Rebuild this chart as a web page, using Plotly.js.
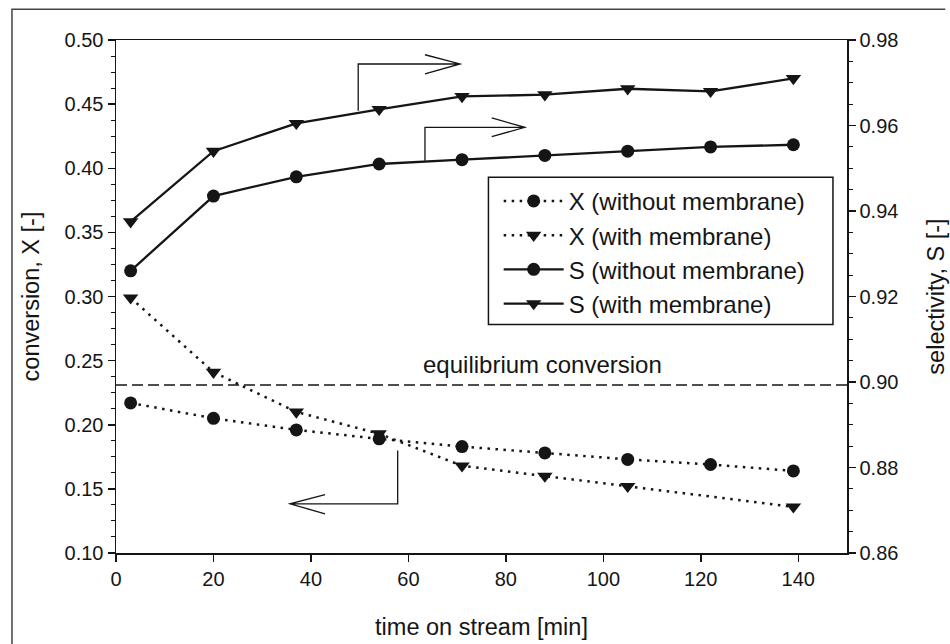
<!DOCTYPE html>
<html>
<head>
<meta charset="utf-8">
<script src="https://cdn.plot.ly/plotly-3.0.1.min.js"></script>
<style>
  html, body { margin: 0; padding: 0; background: #ffffff; }
  #chart { width: 950px; height: 644px; }
</style>
</head>
<body>
<div id="chart"></div>
<script>
// ---- data ----
const timeMin = [3, 20, 37, 54, 71, 88, 105, 122, 139];
const timeXWithMembrane = [3, 20, 37, 54, 71, 88, 105, 139];
const convWithout = [0.217, 0.205, 0.196, 0.189, 0.183, 0.178, 0.173, 0.169, 0.164];
const convWith = [0.299, 0.241, 0.210, 0.193, 0.168, 0.160, 0.152, 0.136];
const selWithout = [0.926, 0.9435, 0.948, 0.951, 0.952, 0.953, 0.954, 0.955, 0.9555];
const selWith = [0.9375, 0.954, 0.9605, 0.9638, 0.9668, 0.9672, 0.9686, 0.968, 0.971];
const eqConversion = 0.231;
const seriesNames = ["X (without membrane)", "X (with membrane)", "S (without membrane)", "S (with membrane)"];
const xTitle = "time on stream [min]";
const yTitle = "conversion, X [-]";
const y2Title = "selectivity, S [-]";
const eqLabel = "equilibrium conversion";

const INK = "#151515";
const FONT = "Liberation Sans, Arial, sans-serif";
const dotted = "2.5px,5.5px";

const traces = [
  { x: timeMin, y: convWithout, name: seriesNames[0], yaxis: "y", mode: "lines+markers",
    line: { color: INK, width: 2.5, dash: dotted }, marker: { symbol: "circle", size: 13, color: INK } },
  { x: timeXWithMembrane, y: convWith, name: seriesNames[1], yaxis: "y", mode: "lines+markers",
    line: { color: INK, width: 2.5, dash: dotted }, marker: { symbol: "triangle-down", size: 13.5, color: INK } },
  { x: timeMin, y: selWithout, name: seriesNames[2], yaxis: "y2", mode: "lines+markers",
    line: { color: INK, width: 2.3 }, marker: { symbol: "circle", size: 13, color: INK } },
  { x: timeMin, y: selWith, name: seriesNames[3], yaxis: "y2", mode: "lines+markers",
    line: { color: INK, width: 2.3 }, marker: { symbol: "triangle-down", size: 13.5, color: INK } }
];

const layout = {
  width: 950, height: 644,
  margin: { l: 116, r: 103.3, t: 39.5, b: 91.3 },
  paper_bgcolor: "#ffffff", plot_bgcolor: "#ffffff",
  font: { family: FONT, color: INK, size: 20 },
  showlegend: true,
  legend: {
    x: 0.5235, y: 0.5861, xanchor: "left", yanchor: "middle",
    bgcolor: "rgba(0,0,0,0)", borderwidth: 0,
    font: { family: FONT, size: 24, color: INK },
    itemwidth: 60, tracegroupgap: 0
  },
  xaxis: {
    range: [0, 150], dtick: 20, tick0: 0,
    showgrid: false, zeroline: false,
    showline: true, linecolor: INK, linewidth: 1.5, mirror: true,
    ticks: "outside", ticklen: 7, tickwidth: 1.5, tickcolor: INK,
    tickfont: { size: 20 },
    title: { text: xTitle, font: { size: 23.5 }, standoff: 30 }
  },
  yaxis: {
    range: [0.10, 0.50], dtick: 0.05, tick0: 0.10, tickformat: ".2f",
    showgrid: false, zeroline: false,
    showline: true, linecolor: INK, linewidth: 1.5,
    ticks: "outside", ticklen: 7, tickwidth: 1.5, tickcolor: INK,
    minor: { dtick: 0.0125, ticks: "outside", ticklen: 4, tickwidth: 1, tickcolor: INK, showgrid: false },
    tickfont: { size: 20 },
    title: { text: yTitle, font: { size: 23.5 }, standoff: 18 }
  },
  yaxis2: {
    overlaying: "y", side: "right",
    range: [0.86, 0.98], dtick: 0.02, tick0: 0.86, tickformat: ".2f",
    showgrid: false, zeroline: false,
    showline: true, linecolor: INK, linewidth: 1.5,
    ticks: "outside", ticklen: 7, tickwidth: 1.5, tickcolor: INK,
    minor: { dtick: 0.005, ticks: "outside", ticklen: 4, tickwidth: 1, tickcolor: INK, showgrid: false },
    tickfont: { size: 20 },
    title: { text: y2Title, font: { size: 23.5 }, standoff: 30 }
  },
  shapes: [
    // legend frame
    { type: "rect", xref: "paper", yref: "paper", x0: 0.5095, x1: 0.9808, y0: 0.4452, y1: 0.7323,
      fillcolor: "#ffffff", layer: "below", line: { color: INK, width: 1.5 } },
    // equilibrium conversion line
    { type: "line", xref: "paper", x0: 0, x1: 1, yref: "y", y0: eqConversion, y1: eqConversion,
      line: { color: INK, width: 1.5, dash: "11px,5px" } },
    // arrow -> S (with membrane), right axis
    { type: "path", xref: "x", yref: "y",
      path: "M 49.7,0.4449 L 49.7,0.4813 L 70.6,0.4813 M 63.4,0.4885 L 70.6,0.4813 L 63.4,0.4735",
      line: { color: INK, width: 1.3 } },
    // arrow -> S (without membrane), right axis
    { type: "path", xref: "x", yref: "y",
      path: "M 63.4,0.4059 L 63.4,0.4319 L 83.9,0.4319 M 77.1,0.4392 L 83.9,0.4319 L 77.1,0.4246",
      line: { color: INK, width: 1.3 } },
    // arrow <- X, left axis
    { type: "path", xref: "x", yref: "y",
      path: "M 57.8,0.1799 L 57.8,0.1383 L 35.7,0.1383 M 42.9,0.1456 L 35.7,0.1383 L 42.9,0.1306",
      line: { color: INK, width: 1.3 } },
    // outer frame of the figure (left and top edges)
    { type: "path", xref: "paper", yref: "paper",
      path: "M -0.1423,-0.3 L -0.1423,1.06 L 1.1345,1.06",
      line: { color: "#444444", width: 1.5 } }
  ],
  annotations: [
    { text: eqLabel, xref: "x", x: 87.5, yref: "y", y: eqConversion,
      xanchor: "center", yanchor: "bottom", yshift: 5, showarrow: false,
      font: { family: FONT, size: 24, color: INK } }
  ]
};

Plotly.newPlot("chart", traces, layout, { displayModeBar: false, staticPlot: true });
</script>
</body>
</html>
